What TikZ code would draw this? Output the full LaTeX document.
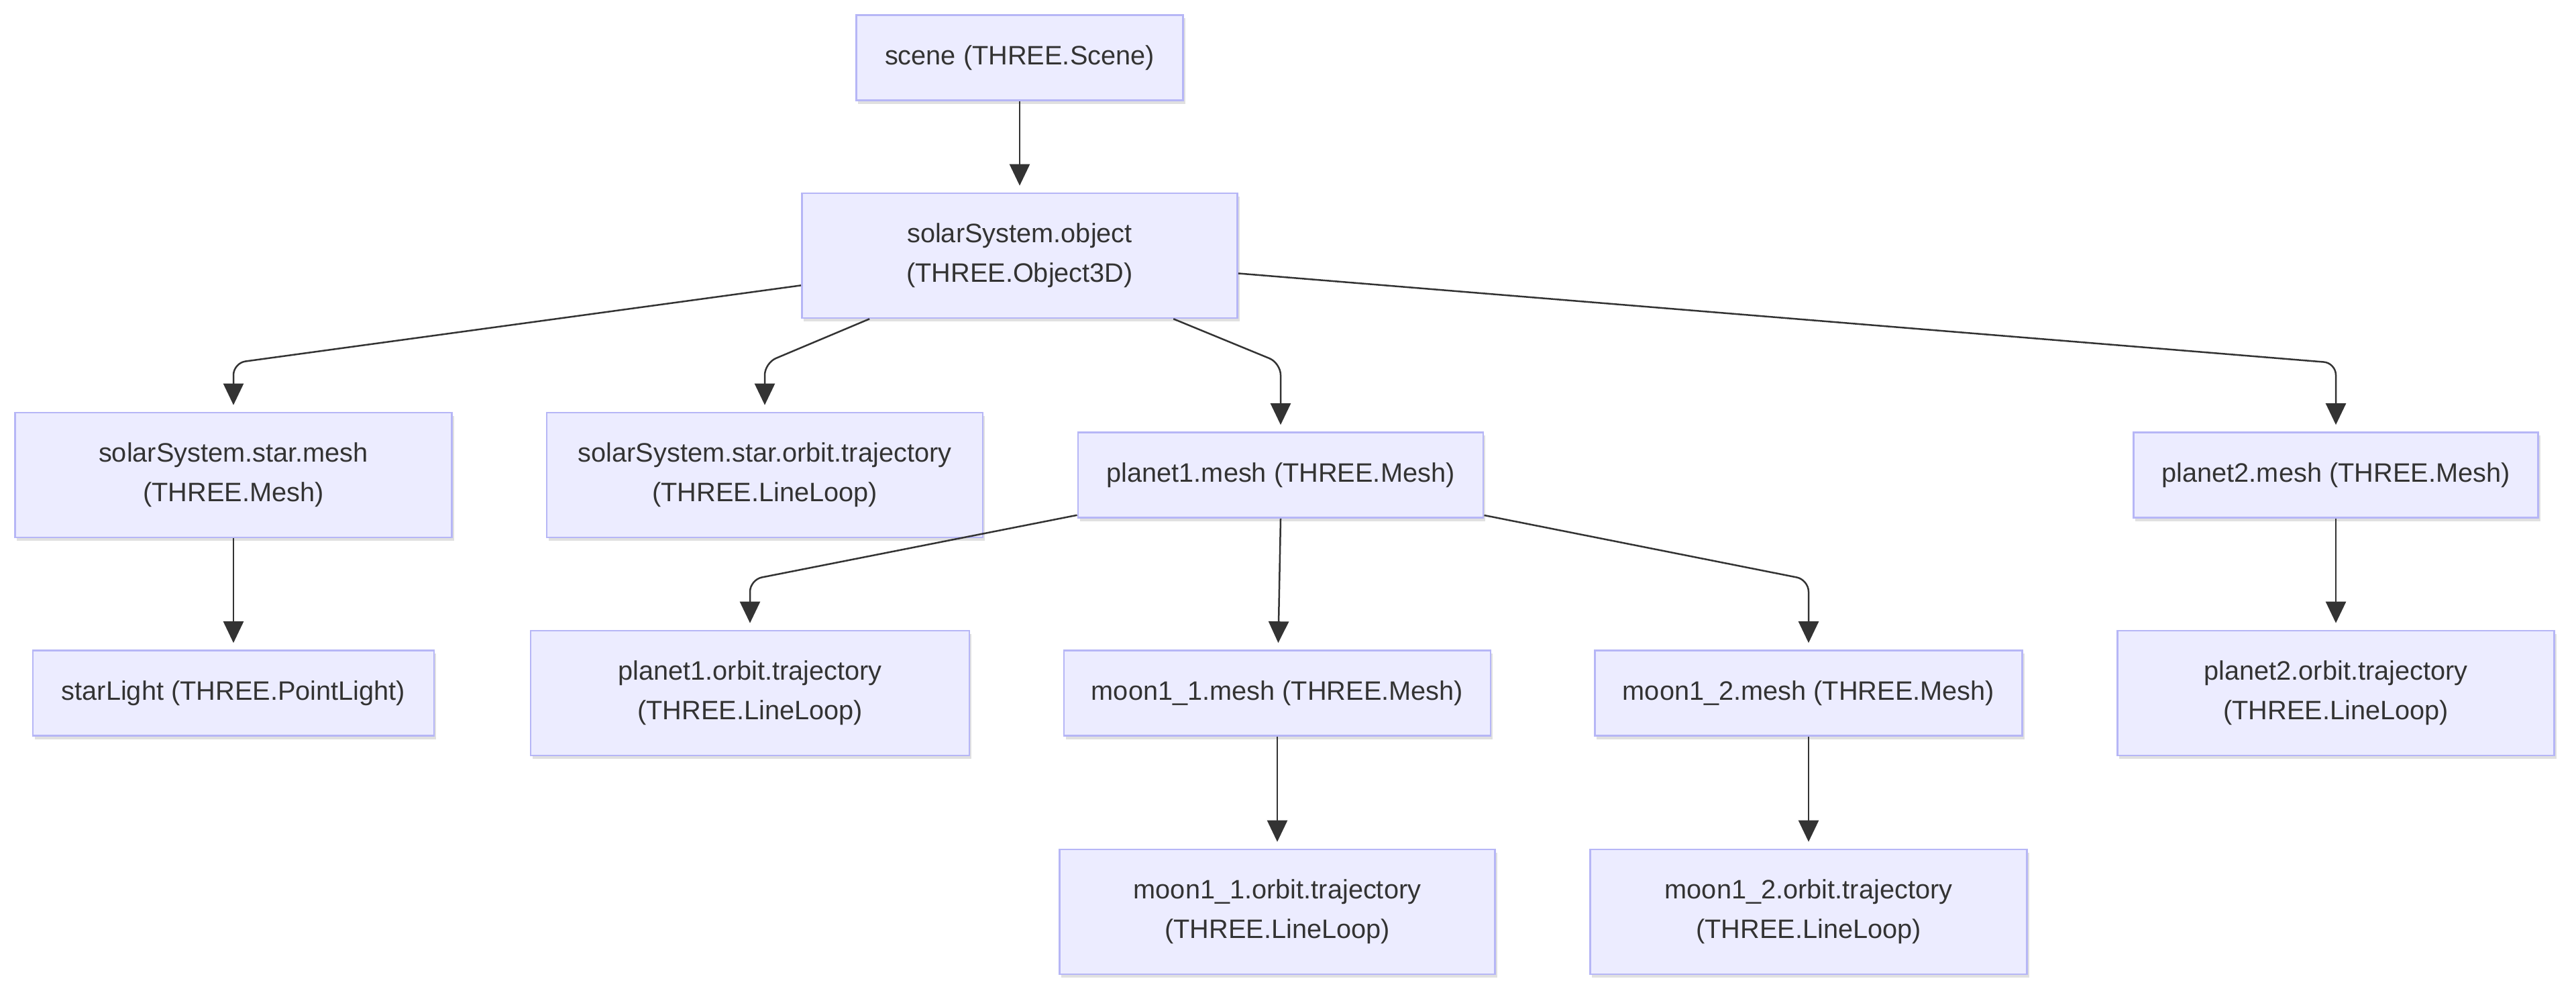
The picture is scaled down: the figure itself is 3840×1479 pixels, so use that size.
\documentclass[tikz,border=0pt]{standalone}
\usepackage{fontspec}
\setmainfont{Liberation Sans}
\usetikzlibrary{arrows.meta,shadows}
\definecolor{nodefill}{HTML}{ECECFF}
\definecolor{nodeline}{HTML}{B6B6F6}
\definecolor{edgecol}{HTML}{333333}
\begin{document}
\begin{tikzpicture}[x=0.01cm,y=-0.01cm,
  box/.style={draw=nodeline, line width=0.025cm, fill=nodefill, align=center,
    text=edgecol, font=\fontsize{11.3}{16.8}\selectfont, minimum height=1.27cm,
    inner sep=0pt,
    drop shadow={shadow xshift=0.03cm, shadow yshift=-0.05cm, fill=black, opacity=0.12}},
  tall/.style={minimum height=1.86cm},
  arr/.style={draw=edgecol, line width=0.025cm, -{Triangle[length=0.32cm,width=0.3cm]},
    rounded corners=0.18cm, shorten >=0.1cm}
]
\useasboundingbox (0,0) rectangle (3840,1479);
\fill[white] (0,0) rectangle (3840,1479);

\node[box, minimum width=4.87cm] (scene) at (1520,86) {scene (THREE.Scene)};
\node[box, tall, minimum width=6.49cm] (obj) at (1520,381) {solarSystem.object\\(THREE.Object3D)};

\node[box, tall, minimum width=6.51cm] (smesh) at (348,708) {solarSystem.star.mesh\\(THREE.Mesh)};
\node[box, tall, minimum width=6.50cm] (sorbit) at (1140,708) {solarSystem.star.orbit.trajectory\\(THREE.LineLoop)};
\node[box, minimum width=6.04cm] (p1) at (1909,708) {planet1.mesh (THREE.Mesh)};
\node[box, minimum width=6.03cm] (p2) at (3482,708) {planet2.mesh (THREE.Mesh)};

\node[box, minimum width=5.98cm] (slight) at (348,1033) {starLight (THREE.PointLight)};
\node[box, tall, minimum width=6.54cm] (p1orbit) at (1118,1033) {planet1.orbit.trajectory\\(THREE.LineLoop)};
\node[box, minimum width=6.36cm] (m11) at (1904,1033) {moon1\_1.mesh (THREE.Mesh)};
\node[box, minimum width=6.37cm] (m12) at (2696,1033) {moon1\_2.mesh (THREE.Mesh)};
\node[box, tall, minimum width=6.51cm] (p2orbit) at (3482,1033) {planet2.orbit.trajectory\\(THREE.LineLoop)};

\node[box, tall, minimum width=6.49cm] (m11orbit) at (1904,1359) {moon1\_1.orbit.trajectory\\(THREE.LineLoop)};
\node[box, tall, minimum width=6.51cm] (m12orbit) at (2696,1359) {moon1\_2.orbit.trajectory\\(THREE.LineLoop)};

\coordinate (c1) at (348,541);
\coordinate (c2) at (1140,541);
\coordinate (c3) at (1909,541);
\coordinate (c4) at (3482,541);
\coordinate (c5) at (1118,864);
\coordinate (c6) at (2696,864);

\draw[arr] (scene) -- (obj);
\draw[arr] (obj) -- (c1) -- (smesh);
\draw[arr] (obj) -- (c2) -- (sorbit);
\draw[arr] (obj) -- (c3) -- (p1);
\draw[arr] (obj) -- (c4) -- (p2);
\draw[arr] (smesh) -- (slight);
\draw[arr] (p1) -- (c5) -- (p1orbit);
\draw[arr] (p1.south) -- (m11);
\draw[arr] (p1) -- (c6) -- (m12);
\draw[arr] (p2) -- (p2orbit);
\draw[arr] (m11) -- (m11orbit);
\draw[arr] (m12) -- (m12orbit);
\end{tikzpicture}
\end{document}
